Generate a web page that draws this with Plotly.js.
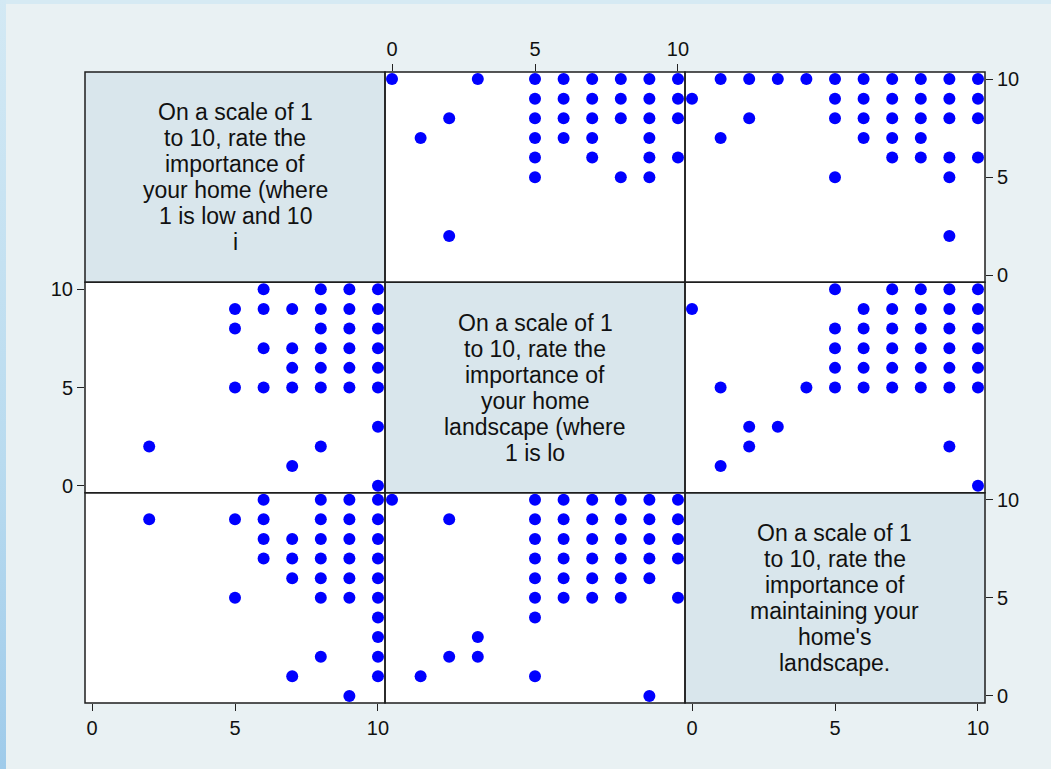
<!DOCTYPE html>
<html>
<head>
<meta charset="utf-8">
<script src="https://cdn.plot.ly/plotly-3.0.1.min.js"></script>
<style>
  html, body { margin:0; padding:0; }
  body { width:1051px; height:769px; background:#e9f1f3; position:relative; overflow:hidden; }
  #stripL { position:absolute; left:0; top:0; width:6px; height:769px;
            background:linear-gradient(to bottom, #d3e9f4, #b9dbef 60%, #9fcbea); }
  #stripT { position:absolute; left:0; top:0; width:1051px; height:4px; background:#d6eaf3; }
  #chart { position:absolute; left:0; top:0; width:1051px; height:769px; }
</style>
</head>
<body>
<div id="stripT"></div>
<div id="stripL"></div>
<div id="chart"></div>
<script>
// Variable labels (diagonal cells), already wrapped as Stata shows them
const labelHome = ["On a scale of 1", "to 10, rate the", "importance of", "your home (where", "1 is low and 10", "i"];
const labelLand = ["On a scale of 1", "to 10, rate the", "importance of", "your home", "landscape (where", "1 is lo"];
const labelMaint = ["On a scale of 1", "to 10, rate the", "importance of", "maintaining your", "home's", "landscape."];

const tickValues = [0, 5, 10];
const tickLabels = ["0", "5", "10"];

// Home importance vs landscape importance (distinct pairs)
const abHome = [10,10,10,10,10,10,10,10, 9,9,9,9,9,9, 8,8,8,8,8,8,8, 7,7,7,7,7, 6,6,6,6, 5,5,5, 2];
const abLand = [0,3,5,6,7,8,9,10, 5,6,7,8,9,10, 2,5,6,7,8,9,10, 1,5,6,7,9, 5,7,9,10, 5,8,9, 2];

// Home importance vs maintaining importance
const acHome  = [10,10,10,10,10,10,10,10,10,10, 9,9,9,9,9,9,9, 8,8,8,8,8,8,8, 7,7,7,7, 6,6,6,6, 5,5, 2];
const acMaint = [1,2,3,4,5,6,7,8,9,10, 0,5,6,7,8,9,10, 2,5,6,7,8,9,10, 1,6,7,8, 7,8,9,10, 5,9, 9];

// Landscape importance vs maintaining importance
const bcLand  = [10,10,10,10,10, 9,9,9,9,9,9, 8,8,8,8,8,8, 7,7,7,7,7,7, 6,6,6,6,6,6, 5,5,5,5,5,5,5,5, 3,3, 2,2, 1, 0];
const bcMaint = [5,7,8,9,10, 0,6,7,8,9,10, 5,6,7,8,9,10, 5,6,7,8,9,10, 5,6,7,8,9,10, 1,4,5,6,7,8,9,10, 2,3, 2,9, 1, 10];

const FONT = "Liberation Sans, Arial, sans-serif";
const W = 1051, H = 769, ML = 85, MR = 66, MT = 72, MB = 66;
const PW = W - ML - MR, PH = H - MT - MB;

const colDom = [[0, 1/3], [1/3, 2/3], [2/3, 1]];
const rowDom = [[2/3, 1], [1/3, 2/3], [0, 1/3]];
const xr = [-0.245, 10.245];
const yr = [-0.357, 10.357];

function axId(k) { return k === 1 ? "" : String(k); }

const layout = {
  width: W, height: H,
  margin: {l: ML, r: MR, t: MT, b: MB, pad: 0},
  paper_bgcolor: "rgba(0,0,0,0)",
  plot_bgcolor: "rgba(0,0,0,0)",
  showlegend: false,
  font: {family: FONT, size: 20, color: "#111"},
  shapes: [],
  annotations: []
};

// Which cells carry visible axes: [row, col, 'x'|'y', side]
const shownAxes = [
  [0, 1, "x", "top"],
  [0, 2, "y", "right"],
  [1, 0, "y", "left"],
  [2, 2, "y", "right"],
  [2, 0, "x", "bottom"],
  [2, 2, "x", "bottom"]
];

for (let r = 0; r < 3; r++) {
  for (let c = 0; c < 3; c++) {
    const k = r * 3 + c + 1;
    const base = {
      showgrid: false, zeroline: false, showline: false,
      showticklabels: false, ticks: "", fixedrange: true
    };
    layout["xaxis" + axId(k)] = Object.assign({}, base, {domain: colDom[c], range: xr, anchor: "y" + axId(k)});
    layout["yaxis" + axId(k)] = Object.assign({}, base, {domain: rowDom[r], range: yr, anchor: "x" + axId(k)});
    // cell background
    layout.shapes.push({
      type: "rect", xref: "paper", yref: "paper", layer: "below",
      x0: colDom[c][0], x1: colDom[c][1], y0: rowDom[r][0], y1: rowDom[r][1],
      fillcolor: r === c ? "#d9e6ec" : "#ffffff", line: {width: 0}
    });
    // cell frame
    layout.shapes.push({
      type: "rect", xref: "paper", yref: "paper", layer: "above",
      x0: colDom[c][0], x1: colDom[c][1], y0: rowDom[r][0], y1: rowDom[r][1],
      fillcolor: "rgba(0,0,0,0)", line: {width: 1.5, color: "#1e1e1e"}
    });
  }
}

shownAxes.forEach(([r, c, ax, side]) => {
  const k = r * 3 + c + 1;
  Object.assign(layout[(ax === "x" ? "xaxis" : "yaxis") + axId(k)], {
    side: side, showticklabels: true, ticks: "outside", ticklen: 7,
    tickwidth: 1, tickcolor: "#222", tickmode: "array",
    tickvals: tickValues, ticktext: tickLabels,
    tickfont: {family: FONT, size: 20, color: "#111"}
  });
});

// Diagonal labels, one annotation per line for Stata-like tight spacing
const labels = [labelHome, labelLand, labelMaint];
const lineSpacing = 26;
labels.forEach((lines, i) => {
  const cx = (colDom[i][0] + colDom[i][1]) / 2;
  const cy = (rowDom[i][0] + rowDom[i][1]) / 2;
  const n = lines.length;
  lines.forEach((txt, j) => {
    const offPx = ((n - 1) / 2 - j) * lineSpacing;
    layout.annotations.push({
      xref: "paper", yref: "paper", x: cx, y: cy + offPx / PH,
      xanchor: "center", yanchor: "middle", showarrow: false,
      borderpad: 0,
      text: txt, font: {family: FONT, size: 23, color: "#111"}
    });
  });
});

function cellTrace(r, c, xs, ys) {
  const k = r * 3 + c + 1;
  return {
    type: "scatter", mode: "markers", x: xs, y: ys,
    xaxis: "x" + axId(k), yaxis: "y" + axId(k),
    marker: {color: "#0000ff", size: 12, line: {width: 0}},
    cliponaxis: false, hoverinfo: "skip"
  };
}

const data = [
  cellTrace(0, 1, abLand, abHome),
  cellTrace(0, 2, acMaint, acHome),
  cellTrace(1, 0, abHome, abLand),
  cellTrace(1, 2, bcMaint, bcLand),
  cellTrace(2, 0, acHome, acMaint),
  cellTrace(2, 1, bcLand, bcMaint),
  // empty traces so the diagonal subplots (and their axes) exist
  cellTrace(0, 0, [null], [null]),
  cellTrace(1, 1, [null], [null]),
  cellTrace(2, 2, [null], [null])
];

Plotly.newPlot("chart", data, layout, {displayModeBar: false, staticPlot: true});
</script>
</body>
</html>
